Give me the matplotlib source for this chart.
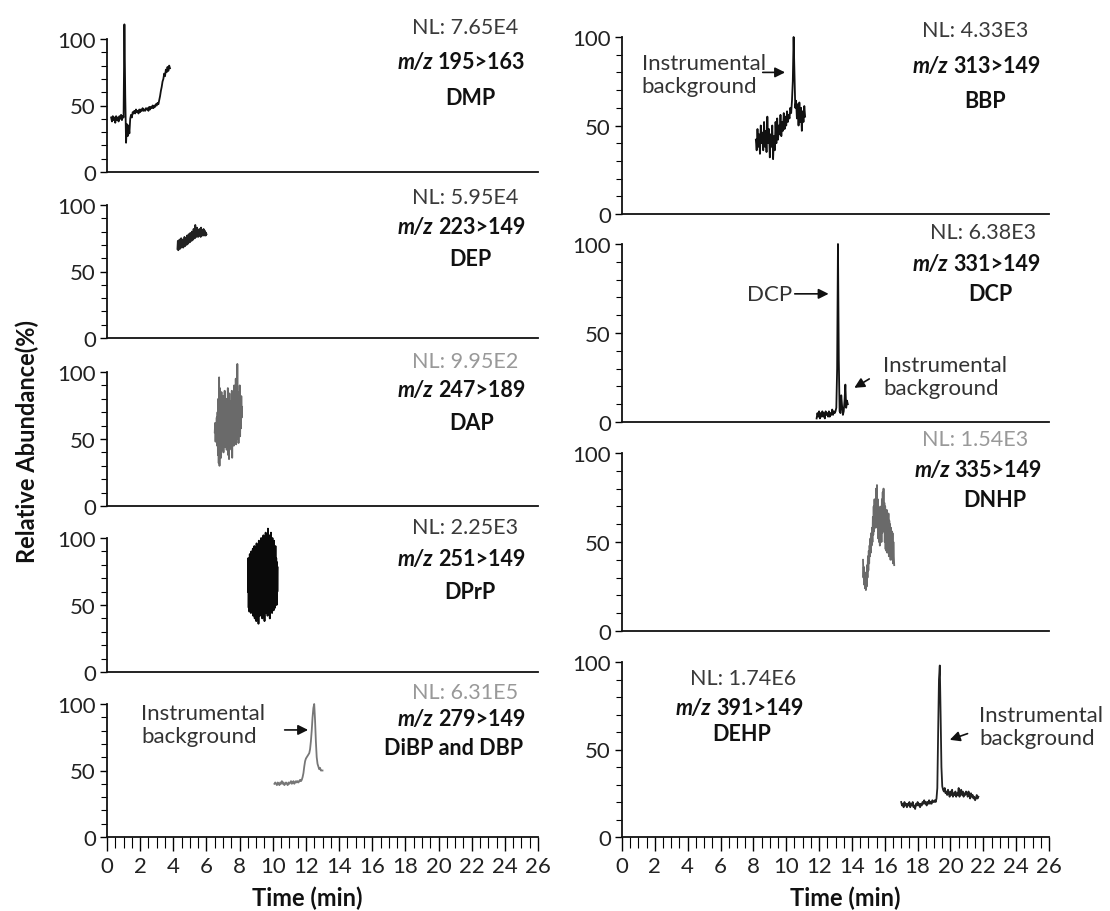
import matplotlib
matplotlib.use('Agg')
import matplotlib.pyplot as plt
from matplotlib.ticker import MultipleLocator
import numpy as np

plt.rcParams['font.family'] = ['Lato', 'DejaVu Sans']

# ---- chromatogram traces (relative abundance, %), sampled evenly between start and end time ----
dmp_time = (0.25, 3.80)
dmp = [41, 38, 42, 39, 41, 37, 42, 39, 41, 38, 42, 40, 43, 39, 42, 41, 111, 58, 22, 36,
       27, 35, 29, 40, 43, 41, 45, 44, 46, 44, 47, 45, 46, 44, 47, 45, 47, 46, 48, 46,
       47, 46, 48, 47, 48, 46, 49, 47, 49, 48, 50, 48, 50, 49, 51, 50, 52, 51, 54, 57,
       61, 64, 68, 70, 74, 72, 77, 75, 79, 76, 80, 78]

dep_time = (4.25, 6.00)
dep = [67, 73, 66, 72, 68, 74, 67, 71, 69, 75, 68, 72, 70, 74, 68, 73, 70, 76, 69, 74,
       71, 75, 70, 77, 72, 75, 71, 78, 73, 76, 72, 79, 74, 77, 73, 80, 75, 78, 74, 82,
       76, 79, 75, 85, 78, 80, 76, 83, 77, 81, 76, 79, 78, 82, 77, 80, 76, 83, 78, 81,
       77, 80, 79, 82, 77, 81, 78, 80, 77, 79, 78]

dap_time = (6.50, 8.15)
dap = [55, 62, 48, 60, 52, 66, 45, 70, 38, 80, 32, 96, 30, 88, 40, 75, 36, 85, 42, 78,
       45, 82, 40, 72, 48, 86, 44, 70, 50, 80, 42, 74, 46, 88, 38, 76, 35, 84, 44, 70,
       48, 78, 42, 86, 36, 74, 50, 82, 45, 90, 52, 76, 48, 95, 46, 80, 55, 106, 50, 85,
       47, 78, 60, 90, 52, 75, 58, 82, 66, 74]

dprp_time = (8.50, 10.30)
dprp = [60, 85, 48, 80, 45, 88, 50, 82, 44, 90, 47, 86, 52, 92, 42, 84, 48, 94, 40, 88,
        46, 90, 38, 96, 50, 86, 44, 92, 36, 98, 48, 90, 42, 94, 50, 100, 45, 88, 40, 96,
        52, 102, 46, 92, 38, 98, 50, 104, 44, 94, 48, 100, 42, 107, 52, 96, 46, 102, 40, 98,
        55, 104, 48, 95, 44, 100, 50, 92, 46, 98, 52, 88, 48, 94, 55, 85, 50, 82, 60, 78]

dibp_time = (10.10, 13.00)
dibp = [40, 41, 40, 39, 41, 40, 39, 41, 40, 42, 40, 41, 39, 40, 41, 40, 39, 41, 40, 41,
        42, 40, 41, 42, 40, 41, 42, 41, 42, 41, 42, 43, 42, 43, 45, 48, 53, 57, 59, 60,
        61, 62, 63, 66, 72, 80, 90, 97, 100, 88, 72, 60, 55, 53, 51, 52, 50, 50, 50]

bbp_time = (8.15, 11.15)
bbp = [42, 36, 48, 38, 45, 34, 50, 40, 46, 36, 52, 38, 47, 35, 55, 40, 48, 32, 45, 38,
       50, 31, 44, 36, 52, 40, 54, 42, 50, 45, 56, 44, 52, 47, 57, 48, 55, 50, 58, 52,
       56, 54, 60, 57, 64, 75, 100, 80, 60, 64, 54, 62, 50, 63, 52, 60, 47, 58, 52, 61, 55]

dcp_time = (11.85, 13.75)
dcp = [2, 5, 3, 6, 2, 5, 3, 6, 3, 5, 2, 6, 4, 5, 3, 6, 3, 5, 4, 7,
       4, 6, 5, 6, 8, 30, 100, 35, 6, 5, 15, 9, 4, 6, 12, 21, 8, 12, 10]

dnhp_time = (14.675, 16.575)
dnhp = [40, 30, 36, 26, 32, 24, 30, 23, 33, 25, 37, 30, 42, 34, 45, 38, 48, 42, 52, 44,
        55, 48, 58, 50, 64, 54, 70, 56, 74, 60, 72, 58, 80, 62, 82, 60, 74, 52, 70, 50,
        66, 48, 68, 52, 70, 50, 74, 55, 78, 58, 80, 56, 72, 50, 70, 46, 66, 45, 68, 44,
        64, 46, 66, 42, 62, 44, 60, 40, 58, 42, 56, 40, 55, 38, 50, 42, 37]

dehp_time = (17.00, 21.70)
dehp = [20, 18, 19, 17, 20, 18, 19, 17, 19, 18, 20, 17, 19, 18, 20, 17, 18, 16, 19, 18,
        20, 18, 19, 17, 19, 18, 20, 19, 21, 19, 20, 18, 20, 19, 21, 19, 20, 19, 21, 20,
        20, 21, 20, 22, 28, 60, 90, 98, 70, 40, 29, 27, 26, 28, 25, 26, 24, 27, 25, 23,
        26, 24, 27, 23, 25, 24, 26, 23, 25, 24, 28, 23, 25, 27, 24, 26, 23, 25, 24, 26,
        25, 23, 26, 24, 22, 25, 23, 24, 22, 23, 21, 22, 24, 22, 23]

# ---- panel labels ----
nl_labels = ['NL: 7.65E4', 'NL: 5.95E4', 'NL: 9.95E2', 'NL: 2.25E3', 'NL: 6.31E5',
             'NL: 4.33E3', 'NL: 6.38E3', 'NL: 1.54E3', 'NL: 1.74E6']
transitions = ['195>163', '223>149', '247>189', '251>149', '279>149',
               '313>149', '331>149', '335>149', '391>149']
compounds = ['DMP', 'DEP', 'DAP', 'DPrP', 'DiBP and DBP',
             'BBP', 'DCP', 'DNHP', 'DEHP']

traces = [(dmp_time, dmp, '#111111'), (dep_time, dep, '#222222'), (dap_time, dap, '#6a6a6a'),
          (dprp_time, dprp, '#0a0a0a'), (dibp_time, dibp, '#777777'),
          (bbp_time, bbp, '#111111'), (dcp_time, dcp, '#111111'), (dnhp_time, dnhp, '#6a6a6a'),
          (dehp_time, dehp, '#222222')]
nl_colors = ['#3a3a3a', '#3a3a3a', '#999999', '#3a3a3a', '#999999',
             '#3a3a3a', '#3a3a3a', '#999999', '#3a3a3a']

W, H = 1110, 912
fig = plt.figure(figsize=(W / 100, H / 100), dpi=100)

# pixel layout: (x of y-axis, width, y of 100, y of 0)
left_rows = [(40, 173), (206, 339), (373, 507), (539, 673), (705, 838)]
right_rows = [(38, 215), (245, 423), (454, 632), (663, 838)]
boxes = [(107, 431, a, b) for a, b in left_rows] + [(622, 427, a, b) for a, b in right_rows]
bottom_panels = {4, 8}

# label placement in each panel's data units:
# (NL centre x, m/z split x, compound centre x, NL y, m/z y, compound y)
text_pos = [(21.6, 19.8, 21.9, 109, 83, 56),
            (21.6, 19.8, 21.9, 106, 84, 60),
            (21.6, 19.8, 22.0, 108, 87, 62),
            (21.6, 19.8, 21.9, 108, 85, 60),
            (21.6, 19.8, 20.9, 109, 89, 67),
            (21.5, 20.0, 22.1, 104, 84, 64),
            (22.0, 20.0, 22.4, 107, 89, 72),
            (21.5, 20.1, 22.7, 108, 91, 74),
            (7.4, 5.6, 7.3, 91, 74, 59)]

axes = []
for i, (x0, w, y100, y0) in enumerate(boxes):
    ax = fig.add_axes([x0 / W, 1 - y0 / H, w / W, (y0 - y100) / H])
    ax.set_xlim(0, 26)
    ax.set_ylim(0, 100)
    ax.spines['top'].set_visible(False)
    ax.spines['right'].set_visible(False)
    for s in ('left', 'bottom'):
        ax.spines[s].set_linewidth(1.3)
        ax.spines[s].set_color('#111111')
    ax.set_yticks([0, 50, 100])
    ax.yaxis.set_minor_locator(MultipleLocator(10))
    ax.tick_params(axis='y', which='major', direction='out', length=5, width=1,
                   labelsize=16, labelcolor='#222222', pad=3)
    ax.tick_params(axis='y', which='minor', direction='out', length=4, width=0.8)
    if i in bottom_panels:
        ax.set_xticks(np.arange(0, 27, 2))
        ax.xaxis.set_minor_locator(MultipleLocator(0.5))
        ax.tick_params(axis='x', which='major', direction='out', length=10, width=1,
                       labelsize=16, labelcolor='#222222', pad=4)
        ax.tick_params(axis='x', which='minor', direction='out', length=8, width=0.8)
    else:
        ax.set_xticks([])

    (t0, t1), vals, col = traces[i]
    t = np.linspace(t0, t1, len(vals))
    ax.plot(t, vals, color=col, lw=1.3, clip_on=False)

    nx, sx, cx, y1, y2, y3 = text_pos[i]
    ax.text(nx, y1, nl_labels[i], ha='center', va='center', fontsize=15.5,
            color=nl_colors[i], clip_on=False)
    ax.text(sx - 0.15, y2, 'm/z', ha='right', va='center', fontsize=15.5,
            fontweight='bold', fontstyle='italic', color='#111111')
    ax.text(sx + 0.15, y2, transitions[i], ha='left', va='center', fontsize=15.5,
            fontweight='bold', color='#111111')
    ax.text(cx, y3, compounds[i], ha='center', va='center', fontsize=15.5,
            fontweight='bold', color='#111111')
    axes.append(ax)

# annotations
arrow = dict(arrowstyle='-|>', color='#111111', lw=1.2, mutation_scale=15)
note = dict(fontsize=16, color='#333333', ha='left', va='center', linespacing=1.2)
bg = 'Instrumental\nbackground'

axes[4].annotate('', xy=(12.3, 80.5), xytext=(10.55, 80.5), arrowprops=arrow)
axes[4].text(2.05, 84.5, bg, **note)

axes[5].annotate('', xy=(10.1, 80), xytext=(8.4, 80), arrowprops=arrow)
axes[5].text(1.2, 79, bg, **note)

axes[6].annotate('', xy=(12.75, 72), xytext=(10.35, 72), arrowprops=arrow)
axes[6].text(7.6, 72, 'DCP', **note)
axes[6].annotate('', xy=(14.0, 18.4), xytext=(15.2, 25), arrowprops=arrow)
axes[6].text(15.9, 25.6, bg, **note)

axes[8].annotate('', xy=(19.8, 55), xytext=(21.2, 59.6), arrowprops=arrow)
axes[8].text(21.75, 63, bg, **note)

# axis titles
axes[2].text(-4.8, 49, 'Relative Abundance(%)', rotation=90, ha='center', va='center',
             fontsize=17, fontweight='bold', color='#111111')
axes[4].text(12.1, -45, 'Time (min)', ha='center', va='center',
             fontsize=17, fontweight='bold', color='#111111')
axes[8].text(13.6, -34.5, 'Time (min)', ha='center', va='center',
             fontsize=17, fontweight='bold', color='#111111')

fig.savefig('out.png', dpi=100)
